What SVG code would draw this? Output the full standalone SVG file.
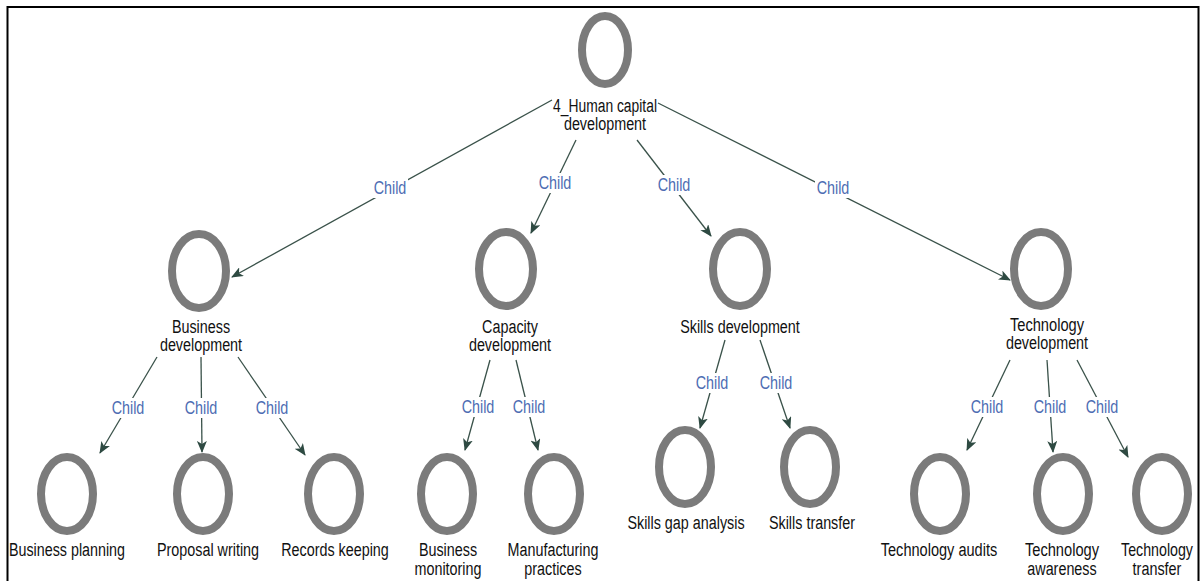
<svg xmlns="http://www.w3.org/2000/svg" width="1201" height="581" viewBox="0 0 1201 581">
  <defs>
    <style>
      .node { fill: #ffffff; stroke: #7b7b7b; stroke-width: 8; }
      .lbl { font-family: "Liberation Sans", Arial, sans-serif; font-size: 18px; fill: #111111; text-anchor: middle; }
      .edge { stroke: #3a524a; stroke-width: 1.3; fill: none; marker-end: url(#arrow); }
      .tag { font-family: "Liberation Sans", Arial, sans-serif; font-size: 18px; fill: #4d6db3; text-anchor: middle; }
      .tagbg { fill: #ffffff; }
      .frame { stroke: #000000; stroke-width: 2; fill: none; }
    </style>
    <marker id="arrow" viewBox="0 0 12 10" refX="11" refY="5" markerWidth="12" markerHeight="10" markerUnits="userSpaceOnUse" orient="auto">
      <path d="M0,0 L12,5 L0,10 L3,5 z" fill="#2e4a42"/>
    </marker>
  </defs>

  <rect width="1201" height="581" fill="#ffffff"/>
  <path class="frame" d="M7.5,581 V7 H1198.5 V581"/>

  <!-- connectors -->
  <g id="connectors">
    <line class="edge" x1="552" y1="100" x2="232" y2="277"/>
    <line class="edge" x1="576" y1="140" x2="531" y2="233"/>
    <line class="edge" x1="637" y1="140" x2="711" y2="236"/>
    <line class="edge" x1="658" y1="103" x2="1010" y2="280"/>
    <line class="edge" x1="157" y1="357" x2="100" y2="453"/>
    <line class="edge" x1="201" y1="357" x2="202" y2="452"/>
    <line class="edge" x1="238" y1="357" x2="305" y2="455"/>
    <line class="edge" x1="490" y1="360" x2="465" y2="450"/>
    <line class="edge" x1="516" y1="360" x2="538" y2="450"/>
    <line class="edge" x1="725" y1="340" x2="700" y2="428"/>
    <line class="edge" x1="760" y1="340" x2="790" y2="428"/>
    <line class="edge" x1="1010" y1="360" x2="967" y2="450"/>
    <line class="edge" x1="1047" y1="360" x2="1053" y2="452"/>
    <line class="edge" x1="1077" y1="360" x2="1128" y2="457"/>

    <g id="edge-labels">
      <rect class="tagbg" x="372" y="178" width="36" height="20"/><text class="tag" x="390" y="194" textLength="32.7" lengthAdjust="spacingAndGlyphs">Child</text>
      <rect class="tagbg" x="537" y="173" width="36" height="20"/><text class="tag" x="555" y="189" textLength="32.7" lengthAdjust="spacingAndGlyphs">Child</text>
      <rect class="tagbg" x="656" y="175" width="36" height="20"/><text class="tag" x="674" y="191" textLength="32.7" lengthAdjust="spacingAndGlyphs">Child</text>
      <rect class="tagbg" x="815" y="178" width="36" height="20"/><text class="tag" x="833" y="194" textLength="32.7" lengthAdjust="spacingAndGlyphs">Child</text>
      <rect class="tagbg" x="110" y="398" width="36" height="20"/><text class="tag" x="128" y="414" textLength="32.7" lengthAdjust="spacingAndGlyphs">Child</text>
      <rect class="tagbg" x="183" y="398" width="36" height="20"/><text class="tag" x="201" y="414" textLength="32.7" lengthAdjust="spacingAndGlyphs">Child</text>
      <rect class="tagbg" x="254" y="398" width="36" height="20"/><text class="tag" x="272" y="414" textLength="32.7" lengthAdjust="spacingAndGlyphs">Child</text>
      <rect class="tagbg" x="460" y="397" width="36" height="20"/><text class="tag" x="478" y="413" textLength="32.7" lengthAdjust="spacingAndGlyphs">Child</text>
      <rect class="tagbg" x="511" y="397" width="36" height="20"/><text class="tag" x="529" y="413" textLength="32.7" lengthAdjust="spacingAndGlyphs">Child</text>
      <rect class="tagbg" x="694" y="373" width="36" height="20"/><text class="tag" x="712" y="389" textLength="32.7" lengthAdjust="spacingAndGlyphs">Child</text>
      <rect class="tagbg" x="758" y="373" width="36" height="20"/><text class="tag" x="776" y="389" textLength="32.7" lengthAdjust="spacingAndGlyphs">Child</text>
      <rect class="tagbg" x="969" y="397" width="36" height="20"/><text class="tag" x="987" y="413" textLength="32.7" lengthAdjust="spacingAndGlyphs">Child</text>
      <rect class="tagbg" x="1032" y="397" width="36" height="20"/><text class="tag" x="1050" y="413" textLength="32.7" lengthAdjust="spacingAndGlyphs">Child</text>
      <rect class="tagbg" x="1084" y="397" width="36" height="20"/><text class="tag" x="1102" y="413" textLength="32.7" lengthAdjust="spacingAndGlyphs">Child</text>
    </g>
  </g>

  <!-- root -->
  <g id="n-human-capital">
    <ellipse class="node" cx="605" cy="50" rx="23" ry="34"/>
    <text class="lbl" x="605" y="112" textLength="104" lengthAdjust="spacingAndGlyphs">4_Human capital</text>
    <text class="lbl" x="605" y="130" textLength="82.2" lengthAdjust="spacingAndGlyphs">development</text>
  </g>

  <!-- second level -->
  <g id="n-business-development">
    <ellipse class="node" cx="199" cy="271" rx="27" ry="37"/>
    <text class="lbl" x="201" y="333" textLength="58.2" lengthAdjust="spacingAndGlyphs">Business</text>
    <text class="lbl" x="201" y="351" textLength="82.2" lengthAdjust="spacingAndGlyphs">development</text>
  </g>
  <g id="n-capacity-development">
    <ellipse class="node" cx="506" cy="269" rx="27" ry="37"/>
    <text class="lbl" x="510" y="333" textLength="55.8" lengthAdjust="spacingAndGlyphs">Capacity</text>
    <text class="lbl" x="510" y="351" textLength="82.2" lengthAdjust="spacingAndGlyphs">development</text>
  </g>
  <g id="n-skills-development">
    <ellipse class="node" cx="740" cy="269" rx="27" ry="37"/>
    <text class="lbl" x="740" y="333" textLength="119.6" lengthAdjust="spacingAndGlyphs">Skills development</text>
  </g>
  <g id="n-technology-development">
    <ellipse class="node" cx="1041" cy="269" rx="27" ry="37"/>
    <text class="lbl" x="1047" y="331" textLength="74.2" lengthAdjust="spacingAndGlyphs">Technology</text>
    <text class="lbl" x="1047" y="349" textLength="82.2" lengthAdjust="spacingAndGlyphs">development</text>
  </g>

  <!-- leaves -->
  <g id="n-business-planning">
    <ellipse class="node" cx="67" cy="494" rx="26" ry="37"/>
    <text class="lbl" x="67" y="556" textLength="116" lengthAdjust="spacingAndGlyphs">Business planning</text>
  </g>
  <g id="n-proposal-writing">
    <ellipse class="node" cx="203" cy="494" rx="26" ry="37"/>
    <text class="lbl" x="208" y="556" textLength="102.1" lengthAdjust="spacingAndGlyphs">Proposal writing</text>
  </g>
  <g id="n-records-keeping">
    <ellipse class="node" cx="334" cy="494" rx="26" ry="37"/>
    <text class="lbl" x="335" y="556" textLength="107.7" lengthAdjust="spacingAndGlyphs">Records keeping</text>
  </g>
  <g id="n-business-monitoring">
    <ellipse class="node" cx="447" cy="494" rx="26" ry="37"/>
    <text class="lbl" x="448" y="556" textLength="58.2" lengthAdjust="spacingAndGlyphs">Business</text>
    <text class="lbl" x="448" y="575" textLength="67" lengthAdjust="spacingAndGlyphs">monitoring</text>
  </g>
  <g id="n-manufacturing-practices">
    <ellipse class="node" cx="554" cy="494" rx="26" ry="37"/>
    <text class="lbl" x="553" y="556" textLength="90.9" lengthAdjust="spacingAndGlyphs">Manufacturing</text>
    <text class="lbl" x="553" y="575" textLength="57.4" lengthAdjust="spacingAndGlyphs">practices</text>
  </g>
  <g id="n-skills-gap-analysis">
    <ellipse class="node" cx="685" cy="467" rx="26" ry="37"/>
    <text class="lbl" x="686" y="529" textLength="117.2" lengthAdjust="spacingAndGlyphs">Skills gap analysis</text>
  </g>
  <g id="n-skills-transfer">
    <ellipse class="node" cx="810" cy="467" rx="26" ry="37"/>
    <text class="lbl" x="812" y="529" textLength="86.1" lengthAdjust="spacingAndGlyphs">Skills transfer</text>
  </g>
  <g id="n-technology-audits">
    <ellipse class="node" cx="940" cy="494" rx="26" ry="37"/>
    <text class="lbl" x="939" y="556" textLength="116.5" lengthAdjust="spacingAndGlyphs">Technology audits</text>
  </g>
  <g id="n-technology-awareness">
    <ellipse class="node" cx="1063" cy="494" rx="26" ry="37"/>
    <text class="lbl" x="1062" y="556" textLength="74.2" lengthAdjust="spacingAndGlyphs">Technology</text>
    <text class="lbl" x="1062" y="575" textLength="69.4" lengthAdjust="spacingAndGlyphs">awareness</text>
  </g>
  <g id="n-technology-transfer">
    <ellipse class="node" cx="1162" cy="494" rx="26" ry="37"/>
    <!-- condensed by scaling, the label sits tight against the right border -->
    <text class="lbl" transform="translate(1157 556) scale(0.79 1)">Technology</text>
    <text class="lbl" transform="translate(1157 575) scale(0.8 1)">transfer</text>
  </g>
</svg>
